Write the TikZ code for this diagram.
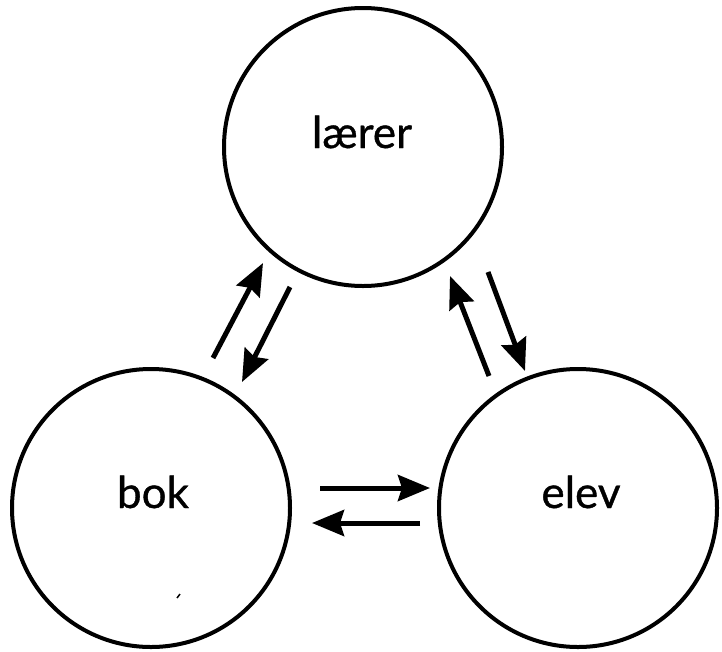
\documentclass[tikz,border=0pt]{standalone}
\usepackage{fontspec}
\setmainfont[FakeBold=0.8]{Lato}
\usetikzlibrary{arrows.meta}
\begin{document}
\begin{tikzpicture}[x=1pt,y=-1pt,
  role/.style={circle,draw,line width=4pt,minimum size=278pt,inner sep=0pt},
  word/.style={anchor=base,inner sep=0pt,font=\fontsize{44}{50}\selectfont},
  flow/.style={line width=5pt,-{Stealth[length=32pt,width=26pt,inset=4pt]}}]
\useasboundingbox (0,0) rectangle (722,651);
\node[role] (larer) at (363,147) {};
\node[role] (bok) at (151,508) {};
\node[role] (elev) at (578,508) {};
\node[word] (larert) at (362,148) {lærer};
\node[word] (bokt) at (153,508) {bok};
\node[word] (elevt) at (581,508) {elev};
\coordinate (a1) at (213,358); \coordinate (a2) at (263,263);
\coordinate (b1) at (290,287); \coordinate (b2) at (242,382);
\coordinate (c1) at (489,376); \coordinate (c2) at (450,276);
\coordinate (d1) at (488,272); \coordinate (d2) at (525,371);
\coordinate (e1) at (320,488); \coordinate (e2) at (430,488);
\coordinate (f1) at (420,523); \coordinate (f2) at (312,523);
\draw[flow] (a1) -- (a2);
\draw[flow] (b1) -- (b2);
\draw[flow] (c1) -- (c2);
\draw[flow] (d1) -- (d2);
\draw[flow] (e1) -- (e2);
\draw[flow] (f1) -- (f2);
\coordinate (s1) at (177,598); \coordinate (s2) at (180,594);
\draw[line width=1.5pt] (s1) -- (s2);
\end{tikzpicture}
\end{document}
